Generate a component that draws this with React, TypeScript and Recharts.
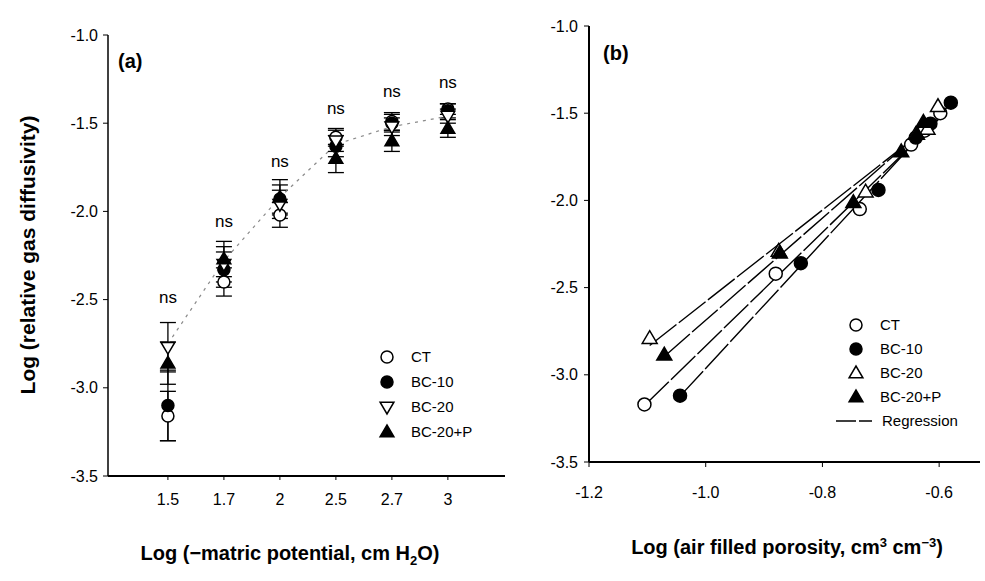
import React from "react";
import { ComposedChart, Scatter, XAxis, YAxis, ErrorBar } from "recharts";

// panel (a): log matric potential categories
const matricLabels = ["1.5", "1.7", "2", "2.5", "2.7", "3"];
const ctA = [-3.16, -2.4, -2.02, -1.58, -1.49, -1.42];
const ctErrA = [0.14, 0.08, 0.07, 0.05, 0.05, 0.03];
const bc10A = [-3.1, -2.33, -1.93, -1.63, -1.5, -1.43];
const bc10ErrA = [0.2, 0.1, 0.08, 0.06, 0.05, 0.04];
const bc20A = [-2.77, -2.3, -1.96, -1.6, -1.52, -1.46];
const bc20ErrA = [0.14, 0.1, 0.08, 0.06, 0.05, 0.04];
const bc20pA = [-2.86, -2.27, -1.92, -1.7, -1.6, -1.53];
const bc20pErrA = [0.12, 0.1, 0.1, 0.08, 0.06, 0.05];
const trendA = [-2.75, -2.28, -1.92, -1.62, -1.52, -1.46];
const nsA = [-2.52, -2.09, -1.75, -1.45, -1.35, -1.3];

// panel (b): log air filled porosity vs log relative gas diffusivity
const ctPorB = [-1.105, -0.88, -0.736, -0.648, -0.625, -0.598];
const ctDifB = [-3.17, -2.42, -2.05, -1.68, -1.6, -1.5];
const bc10PorB = [-1.044, -0.837, -0.704, -0.64, -0.615, -0.58];
const bc10DifB = [-3.12, -2.36, -1.94, -1.64, -1.56, -1.44];
const bc20PorB = [-1.096, -0.875, -0.726, -0.64, -0.62, -0.602];
const bc20DifB = [-2.79, -2.29, -1.95, -1.62, -1.59, -1.46];
const bc20pPorB = [-1.071, -0.873, -0.747, -0.665, -0.638, -0.627];
const bc20pDifB = [-2.885, -2.3, -2.01, -1.72, -1.62, -1.55];

const yTicks = [-3.5, -3.0, -2.5, -2.0, -1.5, -1.0];
const xTicksB = [-1.2, -1.0, -0.8, -0.6];

const FONT = "'Liberation Sans', Arial, sans-serif";

const seriesA = (vals: number[], errs: number[]) =>
  vals.map((y, i) => ({ x: i, y, err: errs[i] }));
const seriesB = (xs: number[], ys: number[]) => xs.map((x, i) => ({ x, y: ys[i] }));

function regression(xs: number[], ys: number[]) {
  const n = xs.length;
  const mx = xs.reduce((a, b) => a + b, 0) / n;
  const my = ys.reduce((a, b) => a + b, 0) / n;
  let sxy = 0;
  let sxx = 0;
  xs.forEach((x, i) => {
    sxy += (x - mx) * (ys[i] - my);
    sxx += (x - mx) * (x - mx);
  });
  const b = sxy / sxx;
  const a = my - b * mx;
  const lo = Math.min(...xs);
  const hi = Math.max(...xs);
  return [
    { x: lo, y: a + b * lo },
    { x: hi, y: a + b * hi },
  ];
}

type Kind = "circleOpen" | "circleFill" | "triDownOpen" | "triUpOpen" | "triUpFill";

function Mark({ kind, cx, cy, r }: { kind: Kind; cx: number; cy: number; r: number }) {
  if (kind === "circleOpen" || kind === "circleFill") {
    return (
      <circle cx={cx} cy={cy} r={r} fill={kind === "circleFill" ? "#000" : "#fff"} stroke="#000" strokeWidth={1.5} />
    );
  }
  const h = r * 1.15;
  const pts =
    kind === "triDownOpen"
      ? `${cx - h},${cy - h * 0.7} ${cx + h},${cy - h * 0.7} ${cx},${cy + h}`
      : `${cx - h},${cy + h * 0.7} ${cx + h},${cy + h * 0.7} ${cx},${cy - h}`;
  return (
    <polygon points={pts} fill={kind === "triUpFill" ? "#000" : "#fff"} stroke="#000" strokeWidth={1.5} strokeLinejoin="miter" />
  );
}

const shape = (kind: Kind, r: number) => (p: any) =>
  p.cx == null ? <g /> : <Mark kind={kind} cx={p.cx} cy={p.cy} r={r} />;

const nothing = () => <g />;

const nsShape = (p: any) =>
  p.cx == null ? (
    <g />
  ) : (
    <text x={p.cx} y={p.cy} textAnchor="middle" fontFamily={FONT} fontSize={17} fill="#000">
      ns
    </text>
  );

const tickStyle = { fontFamily: FONT, fontSize: 16, fill: "#000" };

function Legend({ left, top, rows, gap }: { left: number; top: number; rows: { kind: Kind | "line"; label: string }[]; gap: number }) {
  return (
    <div style={{ position: "absolute", left, top, fontFamily: FONT, fontSize: 15, color: "#000" }}>
      {rows.map((row, i) => (
        <div key={row.label} style={{ position: "absolute", top: i * gap, left: 0, height: 20, whiteSpace: "nowrap" }}>
          <svg width={40} height={20} style={{ position: "absolute", left: -20, top: -10 }}>
            {row.kind === "line" ? (
              <line x1={0} x2={36} y1={10} y2={10} stroke="#000" strokeWidth={1.3} strokeDasharray="20 3" />
            ) : (
              <Mark kind={row.kind} cx={20} cy={10} r={6} />
            )}
          </svg>
          <span style={{ position: "absolute", left: row.kind === "line" ? 26 : 24, top: -9 }}>{row.label}</span>
        </div>
      ))}
    </div>
  );
}

export default function App() {
  const aCT = seriesA(ctA, ctErrA);
  const aBC10 = seriesA(bc10A, bc10ErrA);
  const aBC20 = seriesA(bc20A, bc20ErrA);
  const aBC20P = seriesA(bc20pA, bc20pErrA);
  const aTrend = trendA.map((y, i) => ({ x: i, y }));
  const aNs = nsA.map((y, i) => ({ x: i, y }));

  const bCT = seriesB(ctPorB, ctDifB);
  const bBC10 = seriesB(bc10PorB, bc10DifB);
  const bBC20 = seriesB(bc20PorB, bc20DifB);
  const bBC20P = seriesB(bc20pPorB, bc20pDifB);

  const regLine = { stroke: "#000", strokeWidth: 1.4, strokeDasharray: "34 3" };

  return (
    <div style={{ position: "absolute", left: 0, top: 0, width: 985, height: 581, background: "#fff", fontFamily: FONT }}>
      {/* panel (a) */}
      <div style={{ position: "absolute", left: 0, top: 0 }}>
        <ComposedChart width={520} height={581} margin={{ top: 35, right: 15, bottom: 65, left: 48 }}>
          <XAxis
            xAxisId="t"
            orientation="top"
            type="number"
            dataKey="x"
            domain={[-1.07, 6.02]}
            height={0}
            tick={false}
            tickLine={false}
            axisLine={{ stroke: "#999", strokeWidth: 1, strokeDasharray: "2 3" }}
          />
          <XAxis
            type="number"
            dataKey="x"
            domain={[-1.07, 6.02]}
            ticks={[0, 1, 2, 3, 4, 5]}
            tickFormatter={(v: number) => matricLabels[v] ?? ""}
            height={40}
            tickSize={4}
            tickMargin={14}
            tick={tickStyle}
            axisLine={{ stroke: "#000", strokeWidth: 2 }}
            tickLine={{ stroke: "#000" }}
            allowDataOverflow
          />
          <YAxis
            type="number"
            dataKey="y"
            domain={[-3.5, -1.0]}
            ticks={yTicks}
            tickFormatter={(v: number) => v.toFixed(1)}
            width={60}
            tickSize={5}
            tickMargin={5}
            tick={tickStyle}
            axisLine={{ stroke: "#000", strokeWidth: 1.5 }}
            tickLine={{ stroke: "#000" }}
          />
          <YAxis
            yAxisId="r"
            orientation="right"
            type="number"
            domain={[-3.5, -1.0]}
            width={0}
            tick={false}
            tickLine={false}
            axisLine={{ stroke: "#000", strokeWidth: 1.2 }}
          />
          <Scatter
            data={aTrend}
            shape={nothing}
            line={{ stroke: "#8a8a8a", strokeWidth: 1.2, strokeDasharray: "3 5" }}
            isAnimationActive={false}
          />
          <Scatter data={aCT} shape={shape("circleOpen", 6)} isAnimationActive={false}>
            <ErrorBar dataKey="err" direction="y" width={8} stroke="#000" strokeWidth={1.3} />
          </Scatter>
          <Scatter data={aBC10} shape={shape("circleFill", 6)} isAnimationActive={false}>
            <ErrorBar dataKey="err" direction="y" width={8} stroke="#000" strokeWidth={1.3} />
          </Scatter>
          <Scatter data={aBC20} shape={shape("triDownOpen", 6)} isAnimationActive={false}>
            <ErrorBar dataKey="err" direction="y" width={8} stroke="#000" strokeWidth={1.3} />
          </Scatter>
          <Scatter data={aBC20P} shape={shape("triUpFill", 6)} isAnimationActive={false}>
            <ErrorBar dataKey="err" direction="y" width={8} stroke="#000" strokeWidth={1.3} />
          </Scatter>
          <Scatter data={aNs} shape={nsShape} isAnimationActive={false} />
        </ComposedChart>
      </div>

      {/* panel (b) */}
      <div style={{ position: "absolute", left: 500, top: 0 }}>
        <ComposedChart width={485} height={581} margin={{ top: 26, right: 5, bottom: 79, left: 29 }}>
          <XAxis
            xAxisId="t"
            orientation="top"
            type="number"
            dataKey="x"
            domain={[-1.2, -0.53]}
            height={0}
            tick={false}
            tickLine={false}
            axisLine={{ stroke: "#444", strokeWidth: 1 }}
          />
          <XAxis
            type="number"
            dataKey="x"
            domain={[-1.2, -0.53]}
            ticks={xTicksB}
            tickFormatter={(v: number) => v.toFixed(1)}
            height={40}
            tickSize={5}
            tickMargin={20}
            tick={tickStyle}
            axisLine={{ stroke: "#000", strokeWidth: 2 }}
            tickLine={{ stroke: "#000" }}
            allowDataOverflow
          />
          <YAxis
            type="number"
            dataKey="y"
            domain={[-3.5, -1.0]}
            ticks={yTicks}
            tickFormatter={(v: number) => v.toFixed(1)}
            width={60}
            tickSize={5}
            tickMargin={6}
            tick={tickStyle}
            axisLine={{ stroke: "#000", strokeWidth: 2 }}
            tickLine={{ stroke: "#000" }}
          />
          <YAxis
            yAxisId="r"
            orientation="right"
            type="number"
            domain={[-3.5, -1.0]}
            width={0}
            tick={false}
            tickLine={false}
            axisLine={{ stroke: "#000", strokeWidth: 1.2 }}
          />
          <Scatter data={regression(ctPorB, ctDifB)} shape={nothing} line={regLine} isAnimationActive={false} />
          <Scatter data={regression(bc10PorB, bc10DifB)} shape={nothing} line={regLine} isAnimationActive={false} />
          <Scatter data={regression(bc20PorB, bc20DifB)} shape={nothing} line={regLine} isAnimationActive={false} />
          <Scatter data={regression(bc20pPorB, bc20pDifB)} shape={nothing} line={regLine} isAnimationActive={false} />
          <Scatter data={bCT} shape={shape("circleOpen", 6.5)} isAnimationActive={false} />
          <Scatter data={bBC10} shape={shape("circleFill", 6.5)} isAnimationActive={false} />
          <Scatter data={bBC20} shape={shape("triUpOpen", 6.5)} isAnimationActive={false} />
          <Scatter data={bBC20P} shape={shape("triUpFill", 6.5)} isAnimationActive={false} />
        </ComposedChart>
      </div>

      {/* panel tags */}
      <div style={{ position: "absolute", left: 118, top: 50, fontSize: 20, fontWeight: "bold" }}>(a)</div>
      <div style={{ position: "absolute", left: 603, top: 42, fontSize: 20, fontWeight: "bold" }}>(b)</div>

      <Legend
        left={387}
        top={357}
        gap={25}
        rows={[
          { kind: "circleOpen", label: "CT" },
          { kind: "circleFill", label: "BC-10" },
          { kind: "triDownOpen", label: "BC-20" },
          { kind: "triUpFill", label: "BC-20+P" },
        ]}
      />
      <Legend
        left={856}
        top={325}
        gap={24}
        rows={[
          { kind: "circleOpen", label: "CT" },
          { kind: "circleFill", label: "BC-10" },
          { kind: "triUpOpen", label: "BC-20" },
          { kind: "triUpFill", label: "BC-20+P" },
          { kind: "line", label: "Regression" },
        ]}
      />

      {/* axis titles */}
      <div
        style={{
          position: "absolute",
          left: 28,
          top: 255,
          transform: "translate(-50%, -50%) rotate(-90deg)",
          fontSize: 21,
          fontWeight: "bold",
          whiteSpace: "nowrap",
        }}
      >
        Log (relative gas diffusivity)
      </div>
      <div
        style={{
          position: "absolute",
          left: 290,
          top: 555,
          transform: "translate(-50%, -50%)",
          fontSize: 20,
          fontWeight: "bold",
          whiteSpace: "nowrap",
        }}
      >
        Log (−matric potential, cm H<sub style={{ fontSize: 13 }}>2</sub>O)
      </div>
      <div
        style={{
          position: "absolute",
          left: 787,
          top: 547,
          transform: "translate(-50%, -50%)",
          fontSize: 20,
          fontWeight: "bold",
          whiteSpace: "nowrap",
        }}
      >
        Log (air filled porosity, cm<sup style={{ fontSize: 13 }}>3</sup> cm<sup style={{ fontSize: 13 }}>−3</sup>)
      </div>
    </div>
  );
}
